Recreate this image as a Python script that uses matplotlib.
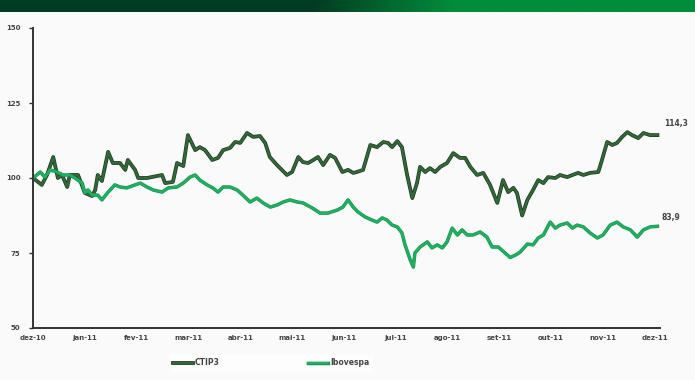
import numpy as np
import matplotlib
matplotlib.use("Agg")
import matplotlib.pyplot as plt
import matplotlib.patheffects as pe

# months since dez-10
ctip_x = [0.00, 0.17, 0.27, 0.39, 0.48, 0.56, 0.66, 0.71, 0.87, 1.00, 1.14, 1.20, 1.25, 1.33,
          1.45, 1.54, 1.68, 1.78, 1.83, 1.97, 2.03, 2.20, 2.49, 2.55, 2.70, 2.78, 2.90, 2.99,
          3.13, 3.22, 3.32, 3.46, 3.57, 3.67, 3.80, 3.90, 4.00, 4.13, 4.25, 4.38, 4.48, 4.57,
          4.71, 4.90, 5.00, 5.12, 5.21, 5.31, 5.41, 5.50, 5.60, 5.73, 5.83, 5.97, 6.08, 6.18,
          6.25, 6.37, 6.51, 6.64, 6.76, 6.85, 6.93, 7.03, 7.12, 7.22, 7.32, 7.41, 7.47, 7.57,
          7.66, 7.76, 7.86, 7.99, 8.11, 8.24, 8.34, 8.44, 8.57, 8.69, 8.82, 8.96, 9.07, 9.17,
          9.27, 9.34, 9.44, 9.54, 9.65, 9.75, 9.85, 9.94, 10.08, 10.17, 10.31, 10.41, 10.52,
          10.62, 10.75, 10.91, 10.98, 11.08, 11.18, 11.27, 11.37, 11.47, 11.56, 11.68, 11.78,
          11.91, 12.05]
ctip_y = [100, 97.7, 101, 107, 100, 101, 97, 101, 101, 95, 94, 96, 101, 99,
          108.7, 105, 105, 102.7, 106, 102.7, 100, 100, 101, 98.3, 98.7, 105, 104, 114.3,
          109.3, 110.3, 109.3, 106, 106.7, 109.3, 110, 112, 111.7, 115, 113.7, 114, 111.7, 107,
          104.3, 101, 102, 107, 105.3, 105, 106, 107, 104.3, 107.7, 106.7, 102, 102.7, 101.7,
          102, 102.7, 111, 110.3, 112, 111.7, 110.3, 112.3, 110.3, 101, 93.3, 98.3, 103.7, 102,
          103.3, 102, 103.7, 105, 108.3, 106.7, 106.7, 103.7, 101, 101.7, 97.7, 91.7, 99.3, 95.3,
          96.7, 95, 87.5, 92.7, 96, 99.3, 98.3, 100.3, 100, 101, 100.3, 101, 101.7,
          101, 101.7, 102, 106, 112, 111, 111.7, 113.7, 115.3, 114.3, 113.3, 115,
          114.3, 114.3]

ibov_x = [0.00, 0.14, 0.23, 0.33, 0.46, 0.58, 0.71, 0.81, 0.95, 1.00, 1.06, 1.14, 1.25, 1.33,
          1.45, 1.58, 1.68, 1.81, 1.97, 2.07, 2.20, 2.32, 2.49, 2.61, 2.78, 2.90, 3.03, 3.13,
          3.22, 3.36, 3.47, 3.57, 3.67, 3.80, 3.94, 4.05, 4.19, 4.32, 4.44, 4.58, 4.71, 4.83,
          4.96, 5.10, 5.21, 5.39, 5.54, 5.69, 5.87, 5.98, 6.08, 6.18, 6.27, 6.41, 6.54, 6.64,
          6.74, 6.83, 6.93, 7.03, 7.12, 7.18, 7.28, 7.34, 7.37, 7.47, 7.61, 7.70, 7.80, 7.90,
          7.99, 8.09, 8.19, 8.28, 8.38, 8.49, 8.63, 8.76, 8.86, 8.98, 9.11, 9.21, 9.31, 9.40,
          9.54, 9.65, 9.75, 9.85, 9.98, 10.08, 10.17, 10.31, 10.41, 10.50, 10.62, 10.75, 10.89,
          11.00, 11.14, 11.27, 11.39, 11.53, 11.66, 11.78, 11.91, 12.05]
ibov_y = [100, 102, 100.3, 102.7, 102, 101, 101, 100, 98.3, 95, 96, 94.3, 94.3, 92.7,
          95.3, 97.7, 97, 96.7, 97.7, 98.3, 97, 96, 95.3, 96.7, 97, 98.3, 100.3, 101,
          99.3, 97.7, 96.7, 95.3, 97, 97, 96, 94.3, 92, 93.3, 91.7, 90.3, 91, 92,
          92.7, 92, 91.7, 90, 88.3, 88.3, 89.3, 90.3, 92.7, 90.3, 88.7, 87, 86, 85.3,
          86.7, 86, 84.3, 83.7, 81.7, 77.7, 72.7, 70.3, 75, 77, 78.7, 76.7, 77.7, 76.7,
          78.7, 83.3, 81, 82.7, 81, 81, 82, 80.3, 77, 77, 75, 73.5, 74.3, 75.3,
          78, 77.7, 80, 81, 85.3, 83.3, 84.3, 85, 83.3, 84.3, 83.7, 81.7, 80,
          81, 84.3, 85.3, 83.7, 82.7, 80.3, 82.7, 83.7, 83.9]

months = ["dez-10", "jan-11", "fev-11", "mar-11", "abr-11", "mai-11", "jun-11",
          "jul-11", "ago-11", "set-11", "out-11", "nov-11", "dez-11"]
yticks = [50, 75, 100, 125, 150]
names = ["CTIP3", "Ibovespa"]
end_labels = ["114,3", "83,9"]

bg = "#fafafa"
fig = plt.figure(figsize=(6.95, 3.8), dpi=100, facecolor=bg)

# green header bar
bar = fig.add_axes([0, 1 - 12 / 380, 1, 12 / 380])
grad = np.linspace(0, 1, 300)
grad = np.clip((grad - 0.45) / 0.2, 0, 1)[None, :]
cmap = matplotlib.colors.LinearSegmentedColormap.from_list("hdr", ["#003c22", "#008c3a"])
bar.imshow(grad, aspect="auto", cmap=cmap, extent=[0, 1, 0, 1])
bar.axis("off")

ax = fig.add_axes([33 / 695, 1 - 328 / 380, 627 / 695, 300 / 380], facecolor=bg)
l1, = ax.plot(ctip_x, ctip_y, color="#35673a", lw=1.7, label=names[0],
              path_effects=[pe.Stroke(linewidth=2.7, foreground="#173a1c"), pe.Normal()])
l2, = ax.plot(ibov_x, ibov_y, color="#20b060", lw=1.7, label=names[1],
              path_effects=[pe.Stroke(linewidth=2.5, foreground="#169050"), pe.Normal()])

ax.annotate(end_labels[0], (ctip_x[-1], ctip_y[-1]), xytext=(5, 8), textcoords="offset points",
            fontsize=5.5, fontweight="bold", color="#444444", va="center")
ax.annotate(end_labels[1], (ibov_x[-1], ibov_y[-1]), xytext=(3, 6), textcoords="offset points",
            fontsize=5.5, fontweight="bold", color="#444444", va="center")

ax.set_xlim(0, 12.1)
ax.set_ylim(50, 150)
ax.set_yticks(yticks)
ax.set_yticklabels([str(v) for v in yticks])
ax.set_xticks(range(len(months)))
ax.set_xticklabels(months)
ax.tick_params(axis="y", length=3, width=1, color="#333333", labelsize=5, pad=6, labelcolor="#444444")
ax.tick_params(axis="x", length=0, labelsize=5, pad=5, labelcolor="#444444")
for t in ax.get_xticklabels() + ax.get_yticklabels():
    t.set_fontweight("bold")
for s in ["top", "right"]:
    ax.spines[s].set_visible(False)
for s in ["left", "bottom"]:
    ax.spines[s].set_color("#333333")
    ax.spines[s].set_linewidth(1.4)

leg = fig.legend(handles=[l1, l2], loc="center", bbox_to_anchor=(0.39, 0.045), ncol=2,
                 frameon=True, fontsize=5.5, handlelength=2.6, columnspacing=11.5, handletextpad=0.3)
leg.get_frame().set_facecolor("white")
leg.get_frame().set_edgecolor("white")
for t in leg.get_texts():
    t.set_fontweight("bold")
    t.set_color("#444444")

fig.savefig("out.png", dpi=100, facecolor=bg)
